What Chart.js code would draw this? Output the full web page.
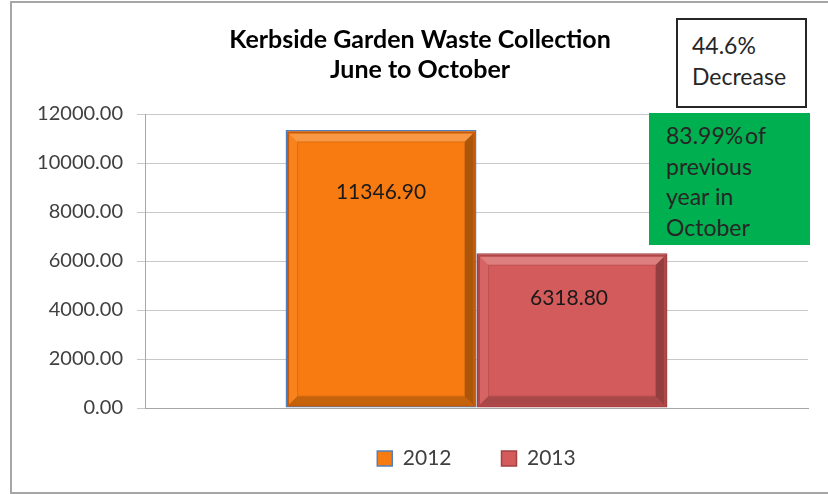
<!DOCTYPE html>
<html>
<head>
<meta charset="utf-8">
<script src="https://cdn.jsdelivr.net/npm/chart.js@4.4.1/dist/chart.umd.min.js"></script>
<style>
  html, body { margin: 0; padding: 0; background: #fff; overflow: hidden; }
  #wrap { position: relative; width: 828px; height: 494px; }
  #frame { position: absolute; left: 10px; top: 1px; width: 830px; height: 489px;
           border: 2px solid #a6a6a6; border-right: none; pointer-events: none; }
  .note { position: absolute; font-family: Lato, sans-serif; font-size: 23px;
          color: #262626; box-sizing: border-box; }
  #decrease { left: 676px; top: 18px; width: 131px; height: 90px; line-height: 31px;
              border: 2px solid #262626; background: #fff; padding: 10px 0 0 14px; }
  #october { left: 649px; top: 113px; width: 161px; height: 132px; line-height: 30.7px;
             background: #00b050; padding: 7px 0 0 17px; }
  .tight { word-spacing: -4px; }
</style>
</head>
<body>
<div id="wrap">
  <canvas id="chart" width="828" height="494"></canvas>
  <div id="frame"></div>
  <div class="note" id="decrease">44.6%<br>Decrease</div>
  <div class="note" id="october"><span class="tight">83.99% of</span><br>previous<br>year in<br>October</div>
</div>
<script>
// data
const categories = [''];
const seriesNames = ['2012', '2013'];
const values2012 = [11346.90];
const values2013 = [6318.80];
const yMin = 0;
const yMax = 12000;
const yStep = 2000;

const FONT = 'Lato, sans-serif';

// draws the bevelled look of the bars and the value labels inside them
const bevelPlugin = {
  id: 'bevel',
  afterDatasetsDraw(chart, args, opts) {
    const ctx = chart.ctx;
    chart.data.datasets.forEach((ds, i) => {
      chart.getDatasetMeta(i).data.forEach((bar, j) => {
        const p = bar.getProps(['x', 'y', 'base', 'width'], true);
        const l = p.x - p.width / 2 + 1.5, r = p.x + p.width / 2 - 1.5;
        const t = p.y + 1.5, b = p.base - 1;
        const d = opts.depth;
        ctx.save();
        // rim
        ctx.strokeStyle = ds.rimColor;
        ctx.lineWidth = 2;
        ctx.strokeRect(l + 1, t + 1, r - l - 2, b - t - 2);
        const l2 = l + 2, r2 = r - 2, t2 = t + 2, b2 = b - 2;
        const quad = (pts, fill) => {
          ctx.beginPath();
          ctx.moveTo(pts[0][0], pts[0][1]);
          pts.slice(1).forEach(pt => ctx.lineTo(pt[0], pt[1]));
          ctx.closePath();
          ctx.fillStyle = fill;
          ctx.fill();
        };
        quad([[l2, t2], [r2, t2], [r2 - d, t2 + d], [l2 + d, t2 + d]], 'rgba(255,255,255,0.22)');
        quad([[l2, t2], [l2 + d, t2 + d], [l2 + d, b2 - d], [l2, b2]], 'rgba(255,255,255,0.06)');
        quad([[r2, t2], [r2, b2], [r2 - d, b2 - d], [r2 - d, t2 + d]], 'rgba(0,0,0,0.3)');
        quad([[l2, b2], [r2, b2], [r2 - d, b2 - d], [l2 + d, b2 - d]], 'rgba(0,0,0,0.2)');
        ctx.strokeStyle = 'rgba(0,0,0,0.1)';
        ctx.lineWidth = 1;
        ctx.strokeRect(l2 + d + 0.5, t2 + d + 0.5, r2 - l2 - 2 * d - 1, b2 - t2 - 2 * d - 1);
        // value label
        ctx.fillStyle = '#1a1a1a';
        ctx.font = '21px ' + FONT;
        ctx.textAlign = 'center';
        ctx.textBaseline = 'middle';
        ctx.fillText(ds.data[j].toFixed(2), p.x + opts.labelDx[i], p.y + opts.labelOffsets[i]);
        ctx.restore();
      });
    });
  }
};

// centre the legend under the plot area and pull it up a little, like the original
const legendShiftPlugin = {
  id: 'legendShift',
  afterLayout(chart, args, opts) {
    const lg = chart.legend;
    const ca = chart.chartArea;
    const dx = (ca.left + ca.right) / 2 - (lg.left + lg.right) / 2;
    lg.left += dx;
    lg.right += dx;
    lg.top -= opts.up;
    lg.bottom -= opts.up;
  }
};

new Chart(document.getElementById('chart'), {
  type: 'bar',
  data: {
    labels: categories,
    datasets: [
      {
        label: seriesNames[0],
        data: values2012,
        backgroundColor: '#f77b10',
        borderColor: '#4f81bd',
        borderWidth: 1.5,
        rimColor: '#c85a05',
        borderSkipped: false
      },
      {
        label: seriesNames[1],
        data: values2013,
        backgroundColor: '#d45b5b',
        borderColor: '#a34040',
        borderWidth: 1.5,
        rimColor: '#b04848',
        borderSkipped: false
      }
    ]
  },
  options: {
    responsive: false,
    animation: false,
    layout: { padding: { left: 32, right: 20, top: 0, bottom: 5 } },
    datasets: {
      bar: { categoryPercentage: 0.576, barPercentage: 1.0 }
    },
    scales: {
      x: {
        grid: { display: false },
        border: { display: true, color: '#a6a6a6' },
        ticks: { display: false },
        afterFit(scale) { scale.height = 0; }
      },
      y: {
        min: yMin,
        max: yMax,
        ticks: {
          stepSize: yStep,
          padding: 14,
          color: '#404040',
          font: { family: FONT, size: 20 },
          callback: v => v.toFixed(2)
        },
        grid: { color: '#c8c8c8', tickLength: 8 },
        border: { color: '#a6a6a6' },
        afterFit(scale) { scale.width = 113; }
      }
    },
    plugins: {
      title: {
        display: true,
        text: ['Kerbside Garden Waste Collection', 'June to October'],
        color: '#000',
        font: { family: FONT, size: 25, weight: 'bold', lineHeight: 1.2 },
        padding: { top: 25, bottom: 29 }
      },
      legend: {
        position: 'bottom',
        labels: {
          boxWidth: 15,
          boxHeight: 15,
          padding: 50,
          color: '#404040',
          font: { family: FONT, size: 21 }
        }
      },
      tooltip: { enabled: false },
      bevel: { depth: 8, labelOffsets: [62, 45], labelDx: [0, -3] },
      legendShift: { up: 10 }
    }
  },
  plugins: [bevelPlugin, legendShiftPlugin]
});
</script>
</body>
</html>
